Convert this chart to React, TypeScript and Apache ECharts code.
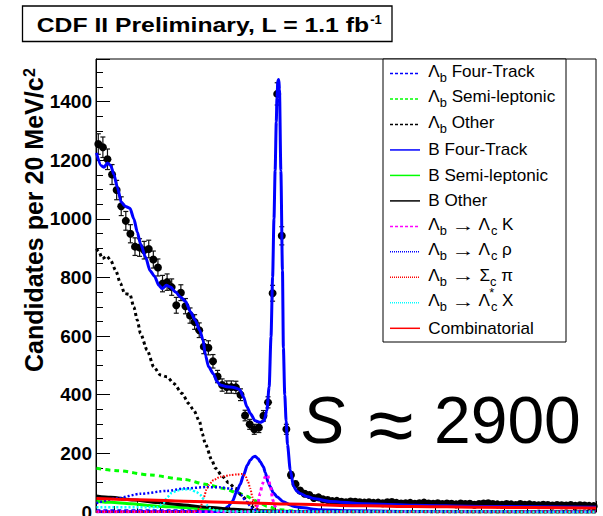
import React, { useEffect, useRef } from "react";
import * as echarts from "echarts";

const FONT = '"Liberation Sans", Arial, Helvetica, sans-serif';

const MASS_MIN = 4.82;
const MASS_MAX = 7.0;
const BIN_WIDTH = 0.02;
const Y_MAX = 1545;

// Data: candidates per 20 MeV bin (bins from 4.82 GeV)
const dataCounts = [
  1255, 1244, 1203, 1151, 1098, 1043, 993, 949, 905, 902,
  893, 897, 861, 834, 779, 784, 767, 705, 748, 702,
  670, 648, 620, 564, 560, 514, 462, 433, 426, 426,
  425, 400, 329, 299, 282, 288, 328, 374, 746, 1426,
  942, 282, 126, 95, 73, 62, 58, 48, 50, 43,
  41, 37, 38, 35, 33, 36, 35, 33, 32, 33,
  31, 32, 30, 33, 34, 31, 29, 30, 31, 28,
  30, 32, 29, 28, 30, 27, 29, 28, 26, 29,
  27, 28, 25, 27, 29, 30, 27, 26, 25, 27,
  26, 24, 27, 25, 26, 24, 23, 25, 24, 22,
  24, 23, 22, 24, 21, 23, 22, 21, 20,
];
const dataErrors = [
  35, 35, 35, 34, 33, 32, 32, 31, 30, 30,
  30, 30, 29, 29, 28, 28, 28, 27, 27, 26,
  26, 25, 25, 24, 24, 23, 21, 21, 21, 21,
  21, 20, 18, 17, 17, 17, 18, 19, 27, 38,
  31, 17, 11, 10, 9, 8, 8, 7, 7, 7,
  6, 6, 6, 6, 6, 6, 6, 6, 6, 6,
  6, 6, 5, 6, 6, 6, 5, 5, 6, 5,
  5, 6, 5, 5, 5, 5, 5, 5, 5, 5,
  5, 5, 5, 5, 5, 5, 5, 5, 5, 5,
  5, 5, 5, 5, 5, 5, 5, 5, 5, 5,
  5, 5, 5, 5, 5, 5, 5, 5, 4,
];

const yTickLabels = [0, 200, 400, 600, 800, 1000, 1200, 1400];
const xMajorTicks = [5.0, 5.5, 6.0, 6.5, 7.0];
const xMinorTicks = [4.9, 5.0, 5.1, 5.2, 5.3, 5.4, 5.5, 5.6, 5.7, 5.8, 5.9, 6.0, 6.1, 6.2, 6.3, 6.4, 6.5, 6.6, 6.7, 6.8, 6.9, 7.0];

// Curves: [mass GeV, candidates]
const totalFit = [
  [4.822, 1225], [4.843, 1181], [4.855, 1176], [4.87, 1190], [4.884, 1182], [4.898, 1151], [4.913, 1108],
  [4.93, 1057], [4.949, 1042], [4.968, 1036], [4.985, 1000], [5.0, 955], [5.014, 915], [5.036, 870],
  [5.055, 824], [5.075, 804], [5.094, 773], [5.109, 762], [5.127, 773], [5.145, 767], [5.167, 750],
  [5.188, 733], [5.21, 719], [5.232, 682], [5.253, 654], [5.272, 620], [5.287, 586], [5.297, 535],
  [5.311, 495], [5.333, 470], [5.348, 444], [5.362, 433], [5.391, 427], [5.42, 425], [5.446, 418],
  [5.463, 393], [5.478, 359], [5.493, 336], [5.514, 311], [5.536, 306], [5.553, 311], [5.565, 347],
  [5.575, 427], [5.583, 597], [5.59, 801], [5.596, 1000], [5.601, 1165], [5.606, 1330], [5.609, 1414],
  [5.613, 1471], [5.617, 1475], [5.62, 1440], [5.626, 1165], [5.633, 824], [5.637, 560], [5.643, 400],
  [5.649, 310], [5.655, 230], [5.667, 143], [5.681, 88], [5.695, 72], [5.71, 63], [5.74, 53],
  [5.768, 46], [5.84, 36], [5.985, 28], [6.203, 23], [6.493, 19], [7.0, 16],
];
const lbFourTrack = [[4.822, 5], [5.2, 5], [5.4, 4], [5.55, 3], [5.65, 1], [7.0, 0.5]];
const lbSemiLeptonic = [
  [4.822, 149], [4.913, 141], [5.058, 126], [5.203, 111], [5.304, 94], [5.376, 80], [5.435, 66],
  [5.478, 54], [5.507, 41], [5.536, 30], [5.565, 20], [5.594, 14], [5.623, 8], [5.667, 4], [5.753, 1], [7.0, 0.5],
];
const lbOther = [
  [4.822, 898], [4.833, 887], [4.848, 864], [4.867, 873], [4.884, 858], [4.906, 824], [4.927, 779],
  [4.945, 745], [4.968, 742], [4.985, 699], [5.0, 654], [5.014, 609], [5.043, 552], [5.072, 495],
  [5.101, 467], [5.13, 461], [5.159, 438], [5.196, 404], [5.224, 370], [5.246, 347], [5.272, 308],
  [5.283, 268], [5.297, 232], [5.325, 177], [5.34, 150], [5.373, 120], [5.398, 100], [5.427, 81],
  [5.457, 55], [5.485, 30], [5.514, 10], [5.545, 2], [5.6, 0.5], [7.0, 0.3],
];
const bFourTrack = [
  [4.822, 1], [5.36, 2], [5.375, 5], [5.397, 20], [5.414, 36], [5.435, 72], [5.449, 95], [5.463, 125],
  [5.48, 160], [5.493, 177], [5.506, 188], [5.514, 190], [5.527, 182], [5.536, 171], [5.55, 154],
  [5.558, 135], [5.571, 100], [5.58, 86], [5.593, 66], [5.609, 52], [5.637, 35], [5.667, 24],
  [5.681, 20], [5.71, 15], [5.797, 8], [5.927, 4], [6.145, 2], [7.0, 1],
];
const bSemiLeptonic = [
  [4.822, 37], [4.884, 33], [4.971, 28], [5.087, 20], [5.203, 15], [5.304, 11], [5.42, 7],
  [5.536, 4], [5.71, 2], [7.0, 0.5],
];
const bOther = [
  [4.822, 55], [4.884, 50], [4.985, 41], [5.087, 32], [5.203, 24], [5.304, 16], [5.42, 9],
  [5.522, 4], [5.65, 2], [7.0, 0.5],
];
const lbLcK = [
  [4.822, 0.5], [5.5, 1], [5.51, 3], [5.522, 18], [5.536, 64], [5.545, 95], [5.558, 120], [5.568, 126],
  [5.58, 90], [5.591, 41], [5.601, 18], [5.614, 5], [5.632, 1], [7.0, 0.5],
];
const lbLcRho = [
  [4.822, 30], [4.913, 47], [5.014, 62], [5.13, 72], [5.203, 80], [5.304, 85], [5.362, 84], [5.406, 80],
  [5.435, 70], [5.452, 58], [5.475, 35], [5.5, 14], [5.527, 4], [5.6, 1.5], [7.0, 1],
];
const lbScPi = [
  [4.822, 1], [5.24, 1], [5.258, 3], [5.275, 15], [5.29, 50], [5.304, 82], [5.311, 92], [5.333, 109],
  [5.362, 120], [5.406, 126], [5.435, 128], [5.458, 130], [5.471, 124], [5.482, 105], [5.493, 80],
  [5.502, 50], [5.51, 28], [5.522, 12], [5.536, 3], [5.6, 1], [7.0, 0.5],
];
const lbLcStarX = [
  [4.822, 16], [5.087, 16], [5.114, 30], [5.13, 50], [5.149, 65], [5.174, 73], [5.201, 78], [5.232, 77],
  [5.258, 68], [5.275, 58], [5.293, 40], [5.306, 22], [5.319, 12], [5.34, 5], [5.4, 2], [7.0, 1],
];
const combinatorial = [
  [4.822, 46], [5.0, 42], [5.25, 36], [5.5, 31], [5.65, 27], [6.0, 21], [6.2, 19], [6.5, 16], [7.0, 14],
];

type Seg = [string, "n" | "sub" | "star" | "arrow"];

const components: {
  segs: Seg[];
  data: number[][];
  color: string;
  width: number;
  dash: number[] | null;
  legendDash: number[] | null;
}[] = [
  { segs: [["\u039B", "n"], ["b", "sub"], [" Four-Track", "n"]], data: lbFourTrack, color: "#0000ff", width: 2.5, dash: [4, 3], legendDash: [3, 2] },
  { segs: [["\u039B", "n"], ["b", "sub"], [" Semi-leptonic", "n"]], data: lbSemiLeptonic, color: "#00ff00", width: 3, dash: [5, 4], legendDash: [3, 2] },
  { segs: [["\u039B", "n"], ["b", "sub"], [" Other", "n"]], data: lbOther, color: "#000000", width: 3, dash: [3, 3], legendDash: [3, 2] },
  { segs: [["B Four-Track", "n"]], data: bFourTrack, color: "#0000ff", width: 3, dash: null, legendDash: null },
  { segs: [["B Semi-leptonic", "n"]], data: bSemiLeptonic, color: "#00ff00", width: 3, dash: null, legendDash: null },
  { segs: [["B Other", "n"]], data: bOther, color: "#000000", width: 3, dash: null, legendDash: null },
  { segs: [["\u039B", "n"], ["b", "sub"], [" ", "n"], ["\u2192", "arrow"], [" \u039B", "n"], ["c", "sub"], [" K", "n"]], data: lbLcK, color: "#ff00ff", width: 3, dash: [3, 3], legendDash: [3, 2] },
  { segs: [["\u039B", "n"], ["b", "sub"], [" ", "n"], ["\u2192", "arrow"], [" \u039B", "n"], ["c", "sub"], [" \u03C1", "n"]], data: lbLcRho, color: "#0000ff", width: 2.5, dash: [2, 2], legendDash: [1, 1] },
  { segs: [["\u039B", "n"], ["b", "sub"], [" ", "n"], ["\u2192", "arrow"], [" \u03A3", "n"], ["c", "sub"], [" \u03C0", "n"]], data: lbScPi, color: "#ff0000", width: 2, dash: [1.5, 1.5], legendDash: [1, 1] },
  { segs: [["\u039B", "n"], ["b", "sub"], [" ", "n"], ["\u2192", "arrow"], [" \u039B", "n"], ["c", "sub"], ["*", "star"], [" X", "n"]], data: lbLcStarX, color: "#00ffff", width: 2.5, dash: [2, 2], legendDash: [1, 1] },
  { segs: [["Combinatorial", "n"]], data: combinatorial, color: "#ff0000", width: 3, dash: null, legendDash: null },
];

let measureCtx: CanvasRenderingContext2D | null = null;
function measure(text: string, size: number, weight = "normal", style = "normal") {
  if (!measureCtx) measureCtx = document.createElement("canvas").getContext("2d");
  measureCtx!.font = `${style} ${weight} ${size}px ${FONT}`;
  return measureCtx!.measureText(text).width;
}

function txt(text: string, x: number, y: number, size: number, extra: any = {}) {
  return {
    type: "text",
    x,
    y,
    z: 110,
    scaleX: extra.scaleX || 1,
    style: {
      text,
      fontSize: size,
      fontFamily: FONT,
      fontWeight: extra.weight || "normal",
      fontStyle: extra.style || "normal",
      fill: "#000",
      align: extra.align || "left",
      textAlign: extra.align || "left",
      verticalAlign: "middle",
      textVerticalAlign: "middle",
    },
  };
}

function legendLabel(segs: Seg[], x: number, y: number, sx: number) {
  const MAIN = 16;
  const SUB = 12;
  const ARROW_SX = 1.35;
  const hasSub = segs.some((s) => s[1] === "sub");
  const base = hasSub ? -2 : 0;
  const children: any[] = [];
  let cx = 0;
  let lastSub = 0;
  for (const [t, k] of segs) {
    if (k === "n") {
      children.push(txt(t, cx, base, MAIN));
      cx += measure(t, MAIN);
    } else if (k === "arrow") {
      children.push(txt(t, cx, base + 0.5, MAIN, { scaleX: ARROW_SX }));
      cx += measure(t, MAIN) * ARROW_SX;
    } else if (k === "sub") {
      children.push(txt(t, cx, base + 6.5, SUB));
      lastSub = cx;
      cx += measure(t, SUB);
    } else {
      children.push(txt(t, lastSub - 1.5, base - 8, 12));
    }
  }
  return { type: "group", x, y, z: 110, scaleX: sx, children };
}

export default function App() {
  const ref = useRef<HTMLDivElement>(null);
  useEffect(() => {
    if (!ref.current) return;
    const chart = echarts.init(ref.current, null, { renderer: "svg" });

    const binCenters = dataCounts.map((_, i) => +(MASS_MIN + BIN_WIDTH * (i + 0.5)).toFixed(3));
    const points = dataCounts.map((v, i) => [binCenters[i], v]);
    const errs = dataCounts.map((v, i) => [binCenters[i], v - dataErrors[i], v + dataErrors[i]]);

    const lineSeries = (data: number[][], color: string, width: number, dash: number[] | null, z: number) => ({
      type: "line",
      data,
      xAxisIndex: 0,
      yAxisIndex: 0,
      showSymbol: false,
      symbol: "none",
      smooth: 0.25,
      smoothMonotone: "x",
      clip: true,
      z,
      silent: true,
      lineStyle: { color, width, type: dash ? dash : "solid", cap: "butt" },
    });

    const series: any[] = [
      {
        type: "custom",
        xAxisIndex: 0,
        yAxisIndex: 0,
        data: errs,
        encode: { x: 0, y: [1, 2] },
        clip: true,
        z: 2,
        silent: true,
        renderItem: (_p: any, api: any) => {
          const x = api.value(0);
          const lo = api.coord([x, api.value(1)]);
          const hi = api.coord([x, api.value(2)]);
          const hw = 2.5;
          const st = { stroke: "#111", lineWidth: 1.2 };
          return {
            type: "group",
            children: [
              { type: "line", shape: { x1: lo[0], y1: lo[1], x2: hi[0], y2: hi[1] }, style: st },
              { type: "line", shape: { x1: lo[0] - hw, y1: lo[1], x2: lo[0] + hw, y2: lo[1] }, style: st },
              { type: "line", shape: { x1: hi[0] - hw, y1: hi[1], x2: hi[0] + hw, y2: hi[1] }, style: st },
            ],
          };
        },
      },
      {
        type: "scatter",
        data: points,
        xAxisIndex: 0,
        yAxisIndex: 0,
        symbol: "circle",
        symbolSize: 8,
        itemStyle: { color: "#000", opacity: 1 },
        z: 3,
        silent: true,
      },
      lineSeries(totalFit, "#0000ff", 3, null, 4),
    ];
    components.forEach((c, i) => series.push(lineSeries(c.data, c.color, c.width, c.dash, 5 + i)));
    series[series.length - 1].z = 20;

    const legendX = 383;
    const legendY = 59;
    const legendW = 183;
    const legendH = 283;
    const graphics: any[] = [
      {
        type: "rect",
        z: 100,
        shape: { x: legendX, y: legendY, width: legendW, height: legendH },
        style: { fill: "#fff", stroke: "#000", lineWidth: 1 },
      },
    ];
    components.forEach((c, i) => {
      const ry = 73.5 + 25.48 * i;
      graphics.push({
        type: "line",
        z: 105,
        shape: { x1: 390, y1: ry, x2: 420, y2: ry },
        style: { stroke: c.color, lineWidth: 1.5, lineDash: c.legendDash || null },
      });
      graphics.push(legendLabel(c.segs, 428.3, ry, 1.07));
    });

    const titleMain = "CDF II Preliminary, L = 1.1 fb";
    const TITLE_SIZE = 21;
    const tw = measure(titleMain, TITLE_SIZE, "bold");
    const tsx = 333 / tw;
    graphics.push({
      type: "rect",
      z: 100,
      shape: { x: 22.5, y: 6, width: 369.5, height: 35.5 },
      style: { fill: "#fff", stroke: "#000", lineWidth: 1.3 },
    });
    graphics.push({
      type: "group",
      z: 110,
      x: 36.7,
      y: 25,
      scaleX: tsx,
      children: [txt(titleMain, 0, 0, TITLE_SIZE, { weight: "bold" })],
    });
    graphics.push(txt("-1", 36.7 + 333 + 0.5, 19.5, 13, { weight: "bold" }));

    const yMain = "Candidates per 20 MeV/c";
    const yw = measure(yMain, 25, "bold");
    graphics.push({
      type: "group",
      z: 110,
      x: 34,
      y: 372,
      rotation: Math.PI / 2,
      children: [txt(yMain, 0, 0, 25, { weight: "bold" }), txt("2", yw + 0.5, -5, 16, { weight: "bold" })],
    });

    graphics.push(txt("S", 301, 420, 66, { style: "italic" }));
    graphics.push(txt("\u2248", 390.7, 424, 82, { align: "center" }));
    graphics.push(txt("2900", 434, 420, 66));

    chart.setOption({
      animation: false,
      backgroundColor: "#fff",
      grid: {
        left: 96,
        right: 7,
        top: 59,
        bottom: 4,
        show: true,
        borderColor: "#000",
        borderWidth: 1,
        backgroundColor: "transparent",
        containLabel: false,
        outerBoundsMode: "none",
      },
      xAxis: [
        {
          type: "value",
          min: MASS_MIN,
          max: MASS_MAX,
          position: "bottom",
          axisLine: { show: true, lineStyle: { color: "#000", width: 1 } },
          axisTick: { show: true, inside: true, length: 11, customValues: xMajorTicks, lineStyle: { color: "#000", width: 1 } },
          axisLabel: { show: false },
          splitLine: { show: false },
        },
        {
          type: "value",
          min: MASS_MIN,
          max: MASS_MAX,
          position: "bottom",
          axisLine: { show: false },
          axisTick: { show: true, inside: true, length: 6, customValues: xMinorTicks, lineStyle: { color: "#000", width: 1 } },
          axisLabel: { show: false },
          splitLine: { show: false },
        },
      ],
      yAxis: {
        type: "value",
        min: 0,
        max: Y_MAX,
        interval: 200,
        axisLine: { show: true, lineStyle: { color: "#000", width: 1 } },
        axisTick: { show: true, inside: true, length: 14, lineStyle: { color: "#000", width: 1 } },
        minorTick: { show: true, splitNumber: 4, length: 7, lineStyle: { color: "#000", width: 1 } },
        splitLine: { show: false },
        minorSplitLine: { show: false },
        axisLabel: {
          show: true,
          margin: 4,
          color: "#000",
          fontSize: 19,
          fontWeight: "bold",
          fontFamily: FONT,
          showMinLabel: true,
          showMaxLabel: false,
          formatter: (v: number) => (yTickLabels.indexOf(v) >= 0 ? String(v) : ""),
        },
      },
      series,
      graphic: { elements: graphics },
    });
    return () => chart.dispose();
  }, []);
  return <div ref={ref} style={{ position: "fixed", left: 0, top: 0, width: 603, height: 516, background: "#fff" }} />;
}
